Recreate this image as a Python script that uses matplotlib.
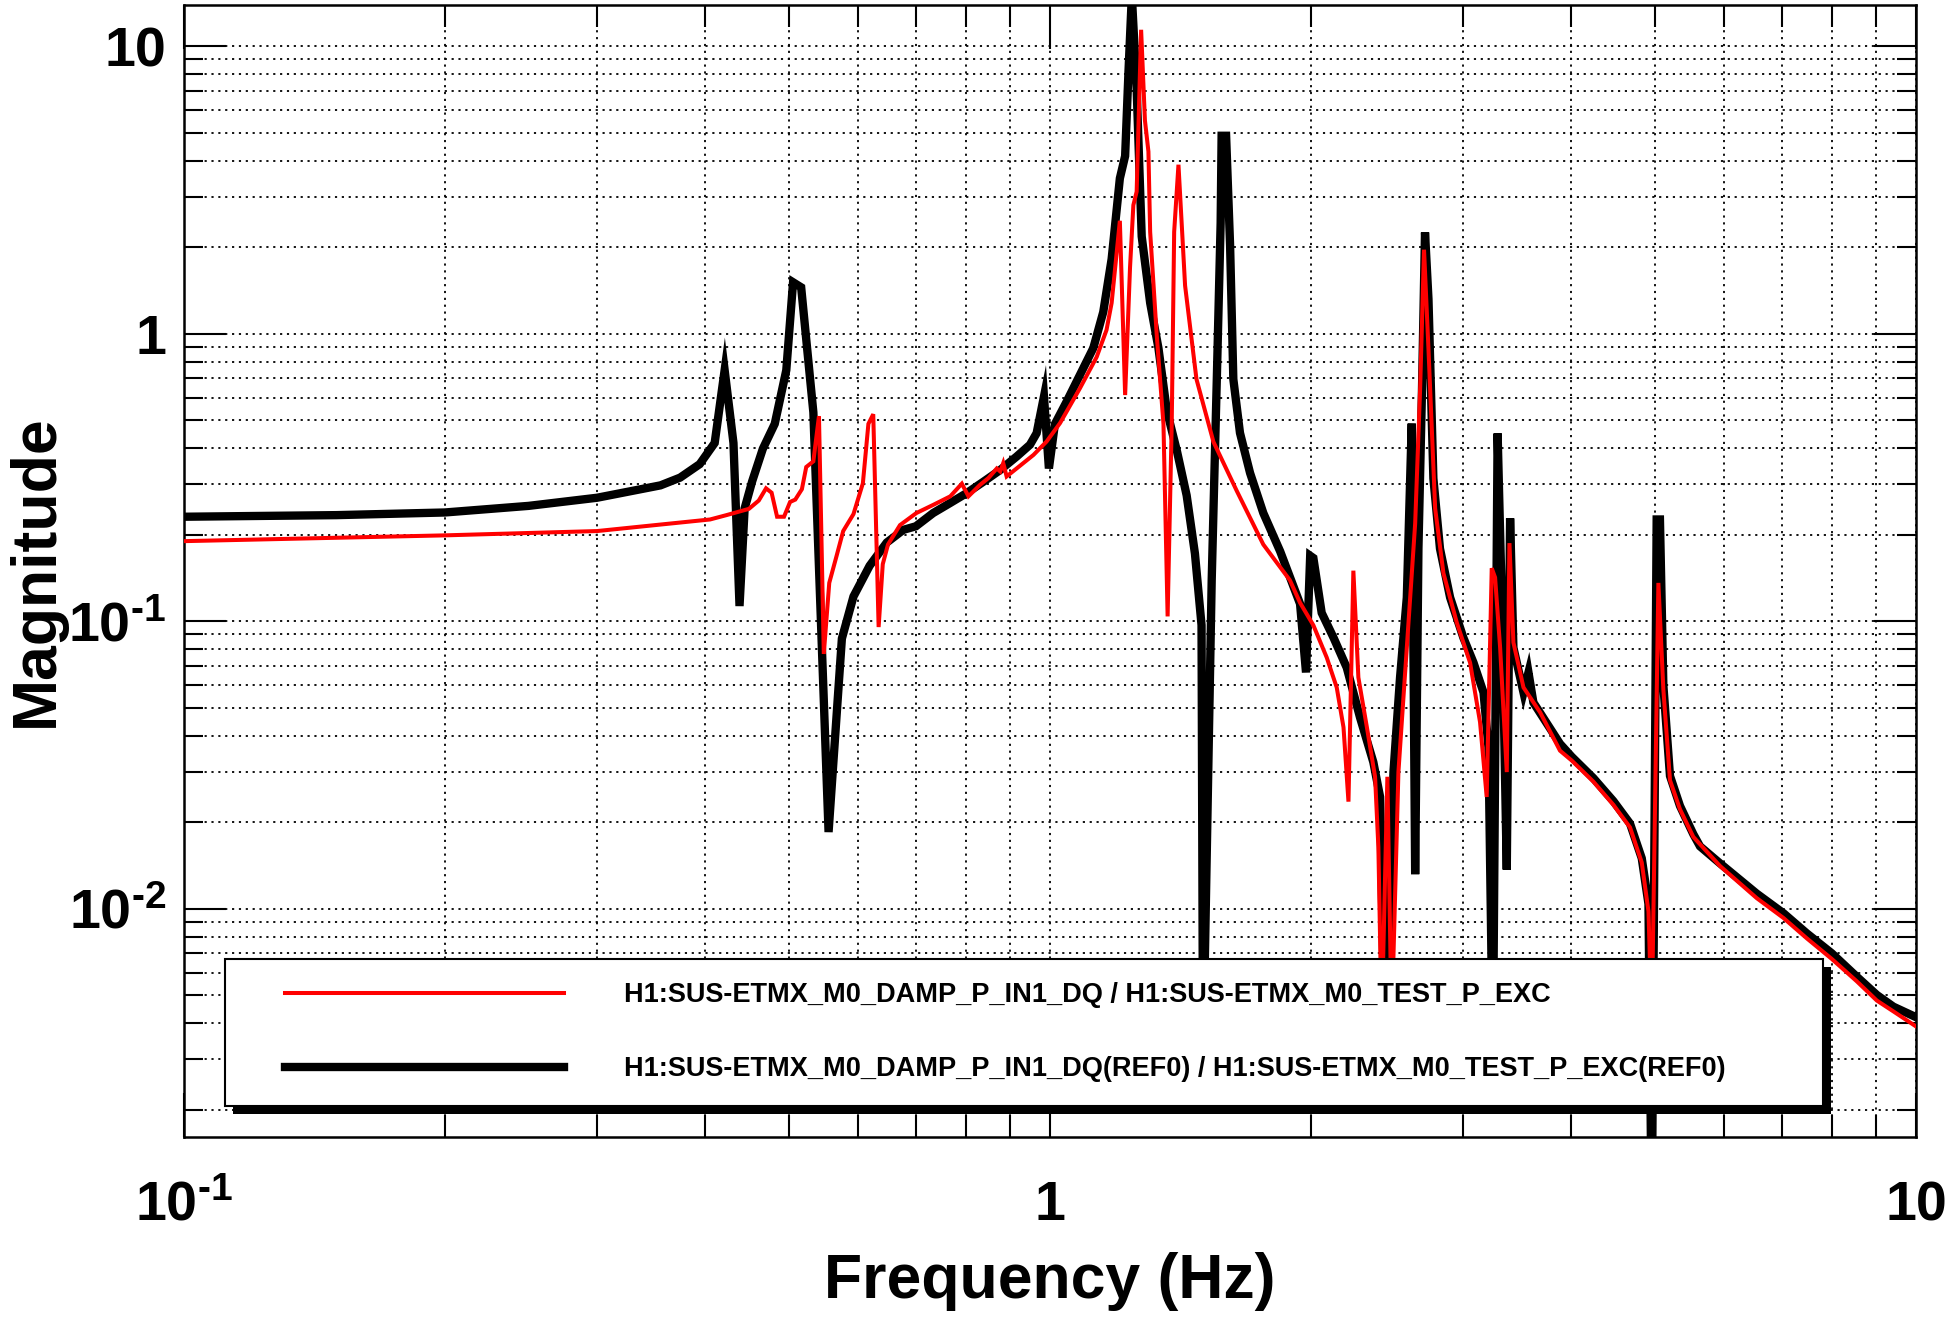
import numpy as np
import matplotlib
matplotlib.use("Agg")
import matplotlib.pyplot as plt
from matplotlib.patches import Rectangle
from matplotlib.transforms import IdentityTransform
from matplotlib.ticker import NullFormatter
from matplotlib.legend_handler import HandlerLine2D

# reference (REF0) transfer function, black
ref_freq = [0.100, 0.150, 0.200, 0.250, 0.300, 0.355, 0.374, 0.394, 0.410, 0.421,
            0.431, 0.438, 0.444, 0.453, 0.466, 0.481, 0.496, 0.505, 0.516, 0.533,
            0.555, 0.575, 0.593, 0.619, 0.648, 0.677, 0.700, 0.733, 0.767, 0.801,
            0.838, 0.876, 0.915, 0.948, 0.965, 0.984, 0.997, 1.013, 1.045, 1.083,
            1.122, 1.152, 1.178, 1.204, 1.221, 1.232, 1.243, 1.259, 1.276, 1.305,
            1.334, 1.364, 1.401, 1.438, 1.470, 1.496, 1.502, 1.537, 1.558, 1.574,
            1.578, 1.597, 1.614, 1.628, 1.657, 1.702, 1.763, 1.844, 1.944, 1.975,
            1.997, 2.014, 2.059, 2.125, 2.201, 2.280, 2.362, 2.405, 2.437, 2.492,
            2.536, 2.582, 2.616, 2.640, 2.663, 2.687, 2.710, 2.735, 2.771, 2.820,
            2.897, 3.001, 3.083, 3.166, 3.208, 3.246, 3.287, 3.323, 3.368, 3.398,
            3.428, 3.521, 3.568, 3.615, 3.880, 4.003, 4.240, 4.472, 4.674, 4.822,
            4.909, 4.952, 5.017, 5.061, 5.107, 5.198, 5.338, 5.530, 5.630, 5.937,
            6.546, 7.028, 7.478, 7.991, 8.541, 9.009, 9.415, 10.0]
ref_mag = [0.231, 0.234, 0.239, 0.252, 0.269, 0.297, 0.316, 0.352, 0.417, 0.747,
           0.417, 0.113, 0.247, 0.307, 0.398, 0.486, 0.747, 1.51, 1.45, 0.533,
           0.0185, 0.0871, 0.122, 0.156, 0.188, 0.208, 0.214, 0.238, 0.258, 0.279,
           0.306, 0.336, 0.374, 0.411, 0.451, 0.605, 0.340, 0.485, 0.580, 0.720,
           0.892, 1.19, 1.82, 3.47, 4.15, 8.19, 15.0, 7.1, 2.18, 1.28,
           0.892, 0.541, 0.392, 0.274, 0.172, 0.097, 0.003, 0.139, 0.695, 2.43,
           4.88, 4.88, 2.03, 0.695, 0.452, 0.328, 0.238, 0.175, 0.115, 0.0664,
           0.169, 0.166, 0.107, 0.0877, 0.069, 0.0463, 0.0324, 0.0245, 0.003, 0.0299,
           0.0638, 0.121, 0.487, 0.0132, 0.179, 0.593, 2.25, 1.32, 0.314, 0.179,
           0.121, 0.0877, 0.0718, 0.0566, 0.0365, 0.003, 0.450, 0.121, 0.0137, 0.228,
           0.081, 0.0566, 0.0664, 0.0522, 0.0375, 0.0338, 0.0285, 0.0237, 0.0198, 0.0150,
           0.0104, 0.0008, 0.226, 0.226, 0.06, 0.029, 0.0228, 0.0182, 0.0165, 0.0144,
           0.0113, 0.00966, 0.00822, 0.00701, 0.00581, 0.00502, 0.00457, 0.00420]

# current measurement, red
cur_freq = [0.100, 0.200, 0.300, 0.355, 0.405, 0.423, 0.449, 0.461, 0.470, 0.477,
            0.484, 0.493, 0.501, 0.508, 0.517, 0.523, 0.533, 0.541, 0.548, 0.556,
            0.567, 0.577, 0.593, 0.608, 0.617, 0.625, 0.634, 0.641, 0.650, 0.671,
            0.701, 0.733, 0.767, 0.791, 0.805, 0.830, 0.849, 0.868, 0.876, 0.883,
            0.891, 0.915, 0.957, 0.991, 1.027, 1.083, 1.132, 1.162, 1.178, 1.204,
            1.221, 1.237, 1.248, 1.259, 1.274, 1.287, 1.299, 1.305, 1.328, 1.352,
            1.367, 1.382, 1.391, 1.407, 1.432, 1.476, 1.544, 1.643, 1.763, 1.892,
            1.944, 2.014, 2.087, 2.143, 2.182, 2.211, 2.240, 2.270, 2.322, 2.373,
            2.394, 2.415, 2.452, 2.480, 2.525, 2.582, 2.640, 2.675, 2.703, 2.735,
            2.784, 2.846, 2.949, 3.055, 3.137, 3.193, 3.236, 3.265, 3.309, 3.368,
            3.392, 3.428, 3.521, 3.681, 3.880, 4.003, 4.240, 4.472, 4.674, 4.822,
            4.909, 4.952, 5.040, 5.107, 5.198, 5.338, 5.530, 5.937, 6.546, 7.028,
            7.478, 7.991, 8.541, 9.009, 9.415, 10.0]
cur_mag = [0.190, 0.199, 0.206, 0.217, 0.226, 0.234, 0.246, 0.263, 0.290, 0.280,
           0.231, 0.231, 0.260, 0.265, 0.288, 0.344, 0.360, 0.517, 0.077, 0.136,
           0.169, 0.206, 0.236, 0.302, 0.486, 0.525, 0.0955, 0.158, 0.185, 0.216,
           0.238, 0.254, 0.272, 0.301, 0.272, 0.298, 0.315, 0.340, 0.332, 0.355,
           0.319, 0.340, 0.379, 0.422, 0.489, 0.647, 0.830, 1.03, 1.28, 2.47,
           0.612, 1.70, 2.80, 3.12, 11.4, 5.52, 4.30, 2.26, 0.99, 0.485,
           0.104, 0.485, 2.26, 3.87, 1.47, 0.695, 0.421, 0.284, 0.185, 0.139,
           0.116, 0.0969, 0.0748, 0.0589, 0.0428, 0.0236, 0.150, 0.0638, 0.0428, 0.0288,
           0.0164, 0.004, 0.0288, 0.004, 0.0299, 0.081, 0.219, 0.643, 1.96, 0.885,
           0.247, 0.147, 0.0989, 0.0718, 0.0446, 0.0245, 0.153, 0.142, 0.081, 0.0299,
           0.187, 0.0844, 0.0589, 0.0482, 0.0355, 0.0328, 0.0277, 0.0230, 0.0192, 0.0145,
           0.0098, 0.004, 0.136, 0.058, 0.028, 0.0222, 0.0178, 0.0141, 0.0109, 0.0093,
           0.0079, 0.0067, 0.0056, 0.0048, 0.0044, 0.0039]

cur_label = "H1:SUS-ETMX_M0_DAMP_P_IN1_DQ / H1:SUS-ETMX_M0_TEST_P_EXC"
ref_label = "H1:SUS-ETMX_M0_DAMP_P_IN1_DQ(REF0) / H1:SUS-ETMX_M0_TEST_P_EXC(REF0)"

xtick_vals = [0.1, 1, 10]
xtick_labels = [r"$10^{\text{-1}}$", "1", "10"]
ytick_vals = [0.01, 0.1, 1, 10]
ytick_labels = [r"$10^{\text{-2}}$", r"$10^{\text{-1}}$", "1", "10"]

plt.rcParams["font.family"] = ["Liberation Sans", "DejaVu Sans"]
plt.rcParams["font.weight"] = "bold"
plt.rcParams["mathtext.fontset"] = "custom"
plt.rcParams["mathtext.rm"] = "Liberation Sans:bold"
plt.rcParams["mathtext.it"] = "Liberation Sans:bold"
plt.rcParams["mathtext.bf"] = "Liberation Sans:bold"
plt.rcParams["mathtext.default"] = "rm"

fig = plt.figure(figsize=(19.55, 13.23), dpi=100)
ax = fig.add_axes([0.0941, 0.1406, 0.8860, 0.8556])

ref_line, = ax.plot(ref_freq, ref_mag, color="black", lw=6, solid_joinstyle="miter", zorder=3)
cur_line, = ax.plot(cur_freq, cur_mag, color="red", lw=2.9, solid_joinstyle="miter", zorder=4)

ax.set_xscale("log")
ax.set_yscale("log")
ax.set_xlim(0.1, 10)
ax.set_ylim(0.00161, 13.9)

ax.set_xticks(xtick_vals, xtick_labels, va="baseline")
ax.set_yticks(ytick_vals, ytick_labels)
ax.xaxis.set_minor_formatter(NullFormatter())
ax.yaxis.set_minor_formatter(NullFormatter())

ax.tick_params(which="both", direction="in", top=True, right=True, width=1.5, labelsize=40)
ax.tick_params(axis="x", which="major", length=32, pad=60)
ax.tick_params(axis="x", which="minor", length=16)
ax.tick_params(axis="y", which="major", length=30, pad=13)
ax.tick_params(axis="y", which="minor", length=14)

ax.grid(which="both", color="black", linestyle=(0, (1.2, 2.6)), linewidth=1.3)
ax.set_axisbelow(True)
for sp in ax.spines.values():
    sp.set_linewidth(1.8)

ax.set_xlabel("Frequency (Hz)", fontsize=45, fontweight="bold")
ax.set_ylabel("Magnitude", fontsize=45, fontweight="bold")
ax.xaxis.set_label_coords(0.5, -0.102)
ax.yaxis.set_label_coords(-0.068, 0.5)

# legend: handles start a bit in from the box edge
fs = 19.5
handler = HandlerLine2D(xpad=1.35)
leg = ax.legend([cur_line, ref_line], [cur_label, ref_label],
                loc="upper left", bbox_to_anchor=(0.0237, 0.0265, 0.9226, 0.1308),
                mode="expand", borderaxespad=0, fontsize=fs,
                borderpad=0.86, labelspacing=1.78, handlelength=11.66,
                handletextpad=2.2, fancybox=False, framealpha=1,
                edgecolor="black", handler_map={cur_line: handler, ref_line: handler})
leg.get_frame().set_linewidth(1.5)
leg.set_zorder(10)

# drop shadow behind the legend box
fig.canvas.draw()
bb = leg.get_window_extent()
shadow = Rectangle((bb.x0 + 8, bb.y0 - 8), bb.width, bb.height,
                   transform=IdentityTransform(), facecolor="black",
                   edgecolor="none", zorder=9, clip_on=False)
ax.add_artist(shadow)

fig.savefig("out.png", dpi=100)
